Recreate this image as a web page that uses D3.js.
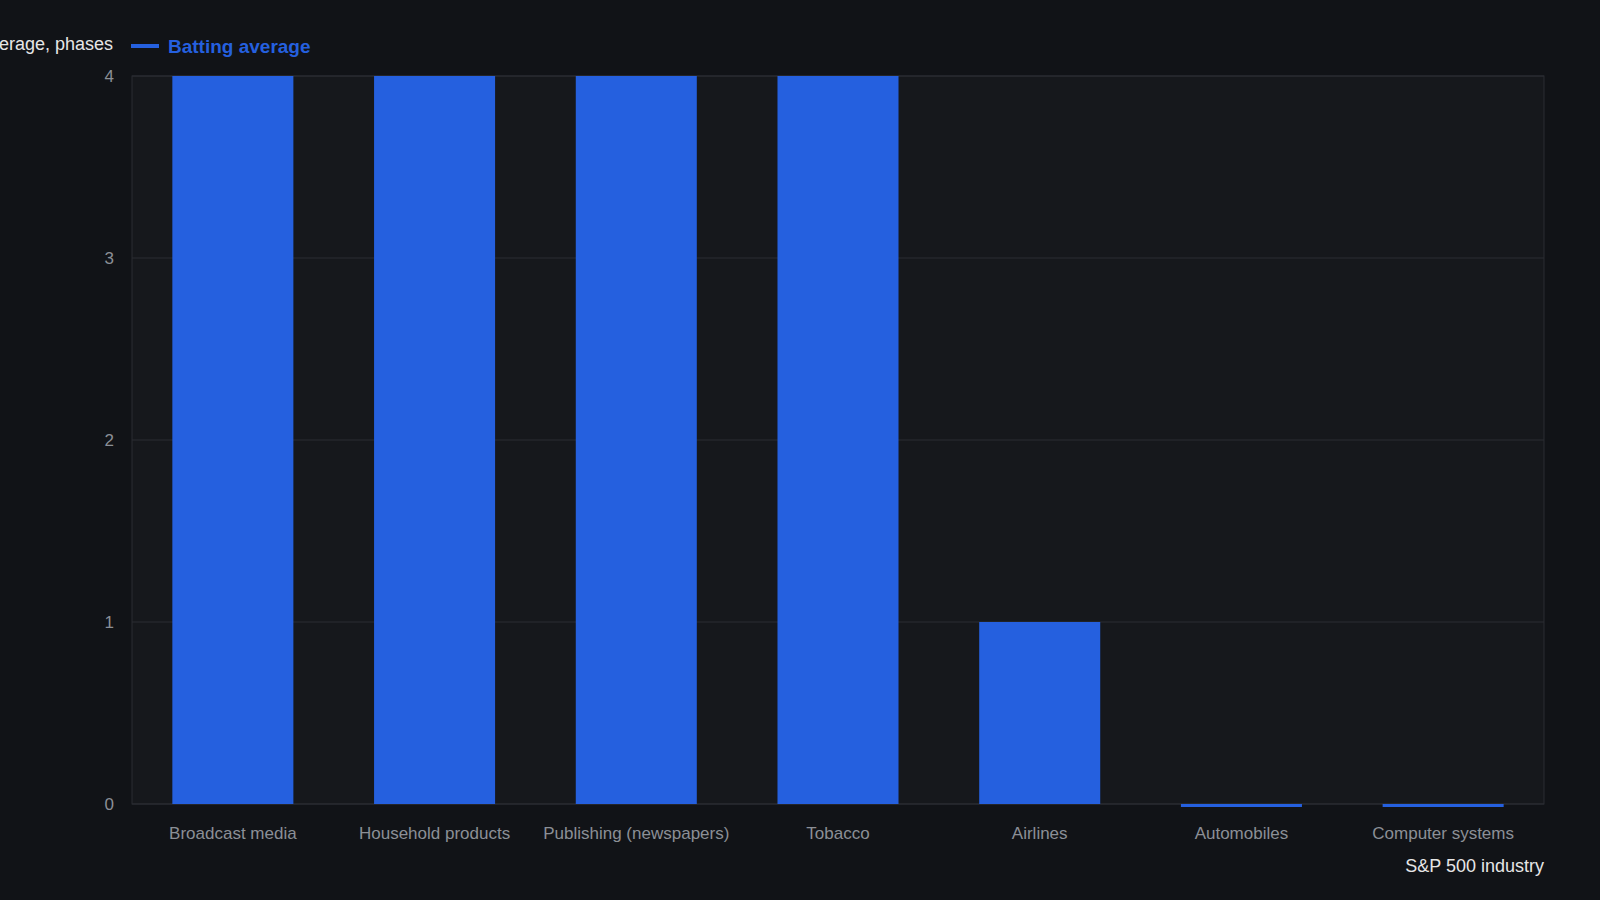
<!DOCTYPE html>
<html><head><meta charset="utf-8">
<script src="https://cdn.jsdelivr.net/npm/d3@7"></script>
<style>body{margin:0;background:#111317;font-family:"Liberation Sans",Arial,sans-serif}</style>
</head><body>
<script>
var categories = ["Broadcast media", "Household products", "Publishing (newspapers)", "Tobacco", "Airlines", "Automobiles", "Computer systems"];
var values = [4, 4, 4, 4, 1, 0, 0];
var yTicks = [0, 1, 2, 3, 4];

var W = 1600, H = 900;
var m = {left: 132, right: 56, top: 76, bottom: 96};
var svg = d3.select("body").append("svg").attr("width", W).attr("height", H);
svg.append("rect").attr("width", W).attr("height", H).attr("fill", "#111317");

var x = d3.scaleBand().domain(categories).range([m.left, W - m.right]).paddingInner(0.4).paddingOuter(0.2);
var y = d3.scaleLinear().domain([0, 4]).range([H - m.bottom, m.top]);

svg.append("rect").attr("x", m.left).attr("y", m.top)
  .attr("width", W - m.right - m.left).attr("height", H - m.bottom - m.top)
  .attr("fill", "#16181c").attr("stroke", "#2a2d33");

var g = svg.append("g");
g.selectAll("line.grid").data(yTicks).join("line")
  .attr("x1", m.left).attr("x2", W - m.right)
  .attr("y1", d => y(d)).attr("y2", d => y(d))
  .attr("stroke", "#2a2d33");

g.selectAll("rect.bar").data(values).join("rect")
  .attr("x", (d, i) => x(categories[i]))
  .attr("width", x.bandwidth())
  .attr("y", d => y(d))
  .attr("height", d => Math.max(2, y(0) - y(d)) + (d === 0 ? 1 : 0))
  .attr("fill", "#2560df");

g.selectAll("text.yt").data(yTicks).join("text")
  .attr("x", m.left - 18).attr("y", d => y(d)).attr("dy", "0.35em")
  .attr("text-anchor", "end").attr("fill", "#8b8f96").attr("font-size", 17).text(d => d);

g.selectAll("text.xt").data(categories).join("text")
  .attr("x", d => x(d) + x.bandwidth() / 2).attr("y", H - m.bottom + 35)
  .attr("text-anchor", "middle").attr("fill", "#8b8f96").attr("font-size", 17).text(d => d);

svg.append("text").attr("x", W - m.right).attr("y", H - m.bottom + 68)
  .attr("text-anchor", "end").attr("fill", "#e6e6e6").attr("font-size", 18).text("S&P 500 industry");

svg.append("text").attr("x", 113).attr("y", 50)
  .attr("text-anchor", "end").attr("fill", "#e6e6e6").attr("font-size", 18).text("Batting average, phases");

svg.append("line").attr("x1", 131).attr("x2", 159).attr("y1", 46).attr("y2", 46)
  .attr("stroke", "#2560df").attr("stroke-width", 4);
svg.append("text").attr("x", 168).attr("y", 53)
  .attr("fill", "#2560df").attr("font-size", 19).attr("font-weight", "bold").text("Batting average");
</script>
</body></html>
